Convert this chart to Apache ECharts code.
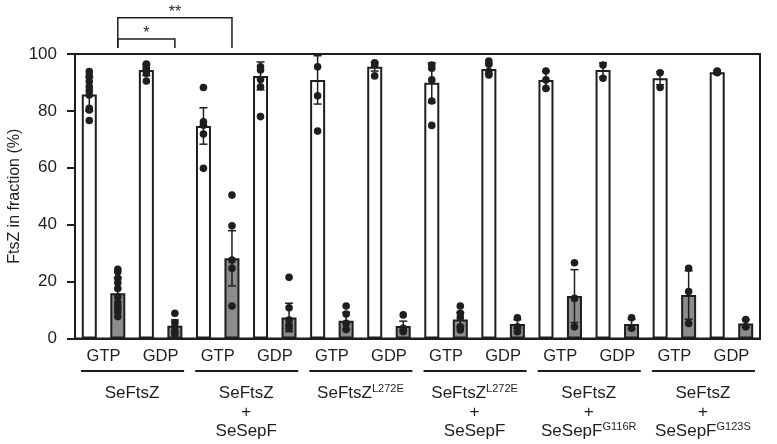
<!DOCTYPE html>
<html>
<head>
<meta charset="utf-8" />
<title>FtsZ fraction</title>
<script src="https://cdn.jsdelivr.net/npm/echarts@6/dist/echarts.min.js"></script>
<style>
  html, body { margin: 0; padding: 0; background: #fff; }
  #main { width: 777px; height: 444px; }
</style>
</head>
<body>
<div id="main"></div>
<script>
// x labels
var nucleotides = ['GTP', 'GDP', 'GTP', 'GDP', 'GTP', 'GDP', 'GTP', 'GDP', 'GTP', 'GDP', 'GTP', 'GDP'];
var groupNames = [
  'SeFtsZ',
  'SeFtsZ\n+\nSeSepF',
  'SeFtsZ{sup|L272E}',
  'SeFtsZ{sup|L272E}\n+\nSeSepF',
  'SeFtsZ\n+\nSeSepF{sup|G116R}',
  'SeFtsZ\n+\nSeSepF{sup|G123S}'
];
var yTicks = [0, 20, 40, 60, 80, 100];

// white bars (supernatant) and grey bars (pellet), mean and error
var whiteMean = [85.8, 94.4, 74.7, 92.3, 90.9, 95.5, 89.9, 94.7, 90.9, 94.4, 91.5, 93.6];
var whiteErr  = [5.8, 2.0, 6.4, 4.9, 8.5, 1.5, 7.0, 1.8, 3.0, 2.5, 2.3, 0.6];
var greyMean  = [15.9, 4.5, 28.2, 7.4, 6.2, 4.4, 6.7, 5.1, 14.9, 5.1, 15.3, 5.3];
var greyErr   = [5.5, 2.0, 9.7, 5.0, 3.0, 1.7, 2.5, 1.5, 9.3, 1.7, 8.5, 1.3];

// individual points
var whiteDots = [
  [93.8, 92.3, 90.3, 88.5, 87.1, 85.6, 80.9, 80.3, 76.6],
  [96.5, 95.5, 95.0, 94.4, 93.2, 90.5],
  [88.2, 76.2, 75.0, 71.9, 59.8],
  [95.5, 94.4, 91.0, 88.5, 78.0],
  [95.5, 85.3, 72.9],
  [96.9, 96.1, 92.3],
  [96.1, 95.0, 90.9, 83.5, 74.9],
  [97.5, 96.4, 93.8, 92.6],
  [94.0, 90.9, 87.9],
  [96.1, 91.5],
  [93.4, 88.2],
  [94.0, 93.4]
];
var greyDots = [
  [24.3, 23.5, 21.2, 19.6, 17.6, 14.7, 12.6, 11.2, 9.4, 7.7],
  [8.9, 5.6, 4.1, 2.4, 1.6],
  [50.4, 39.6, 27.6, 24.7, 11.4],
  [21.5, 10.8, 6.5, 4.7, 3.6],
  [11.4, 8.6, 5.3, 3.2],
  [8.3, 3.6, 2.4],
  [11.4, 8.9, 7.4, 4.1, 3.0],
  [7.3, 4.1, 2.4],
  [26.6, 14.1, 4.1],
  [7.3, 3.6],
  [24.7, 16.5, 5.3],
  [6.7, 4.1]
];

// significance: [from column, to column, bracket top, label] (grey bars)
var brackets = [
  [0, 1, 105.3, '*'],
  [0, 2, 112.7, '**']
];

var ink = '#1e1e1e';
var font = '"Liberation Sans", Arial, Helvetica, sans-serif';

function dotData(list) {
  var out = [];
  for (var i = 0; i < list.length; i++) {
    for (var j = 0; j < list[i].length; j++) out.push([i, list[i][j]]);
  }
  return out;
}
function errData(mean, err) {
  return mean.map(function (m, i) { return [i, m, err[i]]; });
}

function dotRender(side) {
  return function (params, api) {
    var p = api.coord([api.value(0), api.value(1)]);
    var off = api.size([1, 0])[0] / 4 * side;
    return { type: 'circle', shape: { cx: p[0] + off, cy: p[1], r: 3.8 }, style: { fill: ink } };
  };
}
function errRender(side) {
  return function (params, api) {
    var i = api.value(0), m = api.value(1), e = api.value(2);
    var off = api.size([1, 0])[0] / 4 * side;
    var hi = api.coord([i, m + e]), lo = api.coord([i, m - e]);
    var x = hi[0] + off, w = 4;
    var st = { stroke: ink, lineWidth: 1.5 };
    return {
      type: 'group',
      children: [
        { type: 'line', shape: { x1: x, y1: hi[1], x2: x, y2: lo[1] }, style: st },
        { type: 'line', shape: { x1: x - w, y1: hi[1], x2: x + w, y2: hi[1] }, style: st },
        { type: 'line', shape: { x1: x - w, y1: lo[1], x2: x + w, y2: lo[1] }, style: st }
      ]
    };
  };
}

var chart = echarts.init(document.getElementById('main'));
chart.setOption({
  animation: false,
  textStyle: { fontFamily: font },
  grid: {
    left: 75, right: 17, top: 54, bottom: 105.5,
    containLabel: false, outerBoundsMode: 'none',
    show: true, borderColor: ink, borderWidth: 2
  },
  xAxis: [{
    type: 'category',
    data: nucleotides,
    axisLine: { lineStyle: { color: ink, width: 2 } },
    axisTick: { show: false },
    axisLabel: { color: ink, fontSize: 16.5, margin: 9, fontFamily: font, interval: 0 }
  }, {
    type: 'category',
    data: groupNames,
    position: 'bottom',
    axisLine: { show: false },
    axisTick: { show: false },
    axisLabel: {
      color: ink, fontSize: 17, lineHeight: 19, margin: 45, fontFamily: font, interval: 0,
      rich: { sup: { fontSize: 11, fontFamily: font, color: ink, padding: [0, 0, 8, 0] } }
    }
  }],
  yAxis: {
    type: 'value',
    min: yTicks[0], max: yTicks[yTicks.length - 1], interval: 20,
    name: 'FtsZ in fraction (%)',
    nameLocation: 'middle', nameGap: 52, nameRotate: 90, nameMoveOverlap: false,
    nameTextStyle: { color: ink, fontSize: 16, fontFamily: font },
    axisLine: { show: true, lineStyle: { color: ink, width: 2 } },
    axisTick: { show: true, length: 8, lineStyle: { color: ink, width: 2 } },
    axisLabel: { color: ink, fontSize: 17, margin: 18, fontFamily: font },
    splitLine: { show: false }
  },
  series: [{
    type: 'bar', name: 'white', data: whiteMean,
    barWidth: 15, barGap: '90%',
    itemStyle: { color: '#ffffff', borderColor: ink, borderWidth: 2 }, z: 2
  }, {
    type: 'bar', name: 'grey', data: greyMean,
    barWidth: 15,
    itemStyle: { color: '#8c8c8c', borderColor: ink, borderWidth: 2 }, z: 2
  }, {
    type: 'custom', data: errData(whiteMean, whiteErr), renderItem: errRender(-1), z: 3
  }, {
    type: 'custom', data: errData(greyMean, greyErr), renderItem: errRender(1), z: 3
  }, {
    type: 'custom', data: dotData(whiteDots), renderItem: dotRender(-1), z: 4
  }, {
    type: 'custom', data: dotData(greyDots), renderItem: dotRender(1), z: 4
  }, {
    // group underlines
    type: 'custom', clip: false,
    data: groupNames.map(function (g, k) { return [k]; }),
    renderItem: function (params, api) {
      var k = api.value(0);
      var a = api.coord([2 * k, 0]), b = api.coord([2 * k + 1, 0]);
      var y = a[1] + 32.5;
      return { type: 'line', shape: { x1: a[0] - 22.5, y1: y, x2: b[0] + 23.5, y2: y }, style: { stroke: ink, lineWidth: 2 } };
    }
  }, {
    // significance brackets
    type: 'custom', clip: false,
    data: brackets,
    renderItem: function (params, api) {
      var off = api.size([1, 0])[0] / 4;
      var a = api.coord([api.value(0), api.value(2)]);
      var b = api.coord([api.value(1), api.value(2)]);
      var foot = api.coord([0, 102.1])[1];
      var x1 = a[0] + off, x2 = b[0] + off, y = a[1];
      var st = { stroke: ink, lineWidth: 1.5, fill: null };
      return {
        type: 'group',
        children: [
          { type: 'polyline', shape: { points: [[x1, foot], [x1, y], [x2, y], [x2, foot]] }, style: st },
          { type: 'text', style: { text: brackets[params.dataIndex][3], x: (x1 + x2) / 2, y: y + 3, align: 'center', verticalAlign: 'bottom', fontSize: 16, fill: ink, fontFamily: font } }
        ]
      };
    }
  }]
});
</script>
</body>
</html>
